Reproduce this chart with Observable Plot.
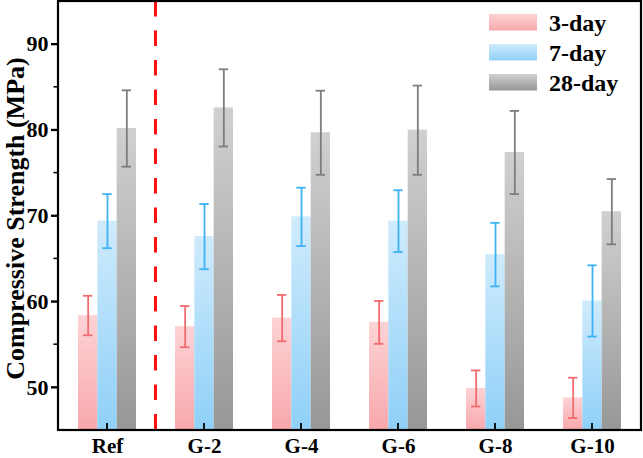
<!DOCTYPE html>
<html>
<head>
<meta charset="utf-8">
<script src="https://cdn.jsdelivr.net/npm/d3@7"></script>
<script src="https://cdn.jsdelivr.net/npm/@observablehq/plot@0.6"></script>
<style>
  html, body { margin: 0; padding: 0; background: #fff; }
  #chart svg { font-family: "Liberation Serif", "Times New Roman", Times, serif !important; font-size: 22px !important; font-weight: bold !important; color: #000 !important; }
  #chart svg text { font-family: "Liberation Serif", "Times New Roman", Times, serif !important; font-weight: bold !important; fill: #000; }
</style>
</head>
<body>
<div id="chart"></div>
<script>
const groups = ["Ref", "G-2", "G-4", "G-6", "G-8", "G-10"];
const series = ["3-day", "7-day", "28-day"];
const day3   = [58.4, 57.1, 58.1, 57.6, 49.9, 48.8];
const err3   = [2.3, 2.4, 2.7, 2.5, 2.1, 2.35];
const day7   = [69.4, 67.6, 69.9, 69.4, 65.5, 60.1];
const err7   = [3.15, 3.8, 3.4, 3.6, 3.7, 4.15];
const day28  = [80.2, 82.6, 79.7, 80.0, 77.4, 70.5];
const err28  = [4.45, 4.5, 4.9, 5.2, 4.85, 3.8];
const yTicks = [50, 60, 70, 80, 90];
const yMinorTicks = [55, 65, 75, 85];
const yLabel = "Compressive Strength (MPa)";

const values = [day3, day7, day28];
const errors = [err3, err7, err28];
const gradIds = ["gPink", "gBlue", "gGray"];
const gradStops = [["#fdd3d5", "#f7a8ac"], ["#cfebfc", "#8fd0f8"], ["#d0d0d0", "#979797"]];
const errColors = ["#f26b70", "#3db2f5", "#7d7d7d"];

const W = 643, H = 458, ML = 58, MR = 2, MT = 1, MB = 28;
const PAD = 0.403;
const step = (W - ML - MR) / groups.length;
const B = step * (1 - PAD);        // band width of a group
const bw = B / series.length;      // width of one bar
const capInset = 5;

const rows = [];
groups.forEach((g, i) => series.forEach((s, j) => {
  rows.push({group: g, series: s, value: values[j][i], lo: values[j][i] - errors[j][i], hi: values[j][i] + errors[j][i]});
}));

const marks = [];
series.forEach((s, j) => {
  const data = rows.filter(d => d.series === s);
  marks.push(Plot.barY(data, {x: "group", y1: 45, y2: "value", fill: `url(#${gradIds[j]})`,
    insetLeft: j * bw, insetRight: (series.length - 1 - j) * bw}));
});
series.forEach((s, j) => {
  const data = rows.filter(d => d.series === s);
  const off = (j - (series.length - 1) / 2) * bw;
  marks.push(Plot.ruleX(data, {x: "group", y1: "lo", y2: "hi", dx: off, stroke: errColors[j], strokeWidth: 1.8}));
  const capOpts = {x: "group", stroke: errColors[j], strokeWidth: 1.8,
    insetLeft: j * bw + capInset, insetRight: (series.length - 1 - j) * bw + capInset};
  marks.push(Plot.tickY(data, {...capOpts, y: "hi"}));
  marks.push(Plot.tickY(data, {...capOpts, y: "lo"}));
});

const plot = Plot.plot({
  width: W,
  height: H,
  marginLeft: ML,
  marginRight: MR,
  marginTop: MT,
  marginBottom: MB,
  style: {fontSize: "22px", background: "white", overflow: "visible"},
  x: {domain: groups, paddingInner: PAD, paddingOuter: PAD / 2, label: null, tickSize: 0, tickPadding: 7.5},
  y: {domain: [45, 95], ticks: yTicks, tickSize: 7, tickPadding: 3, label: null},
  marks
});

document.getElementById("chart").appendChild(plot);

const svg = d3.select(plot);
const xs = plot.scale("x");
const ys = plot.scale("y");
const cx = g => xs.apply(g) + xs.bandwidth / 2;
const y0 = ys.apply(45), yTop = ys.apply(95);
const xL = ML, xR = W - MR;

// group labels slightly smaller than y tick labels
svg.selectAll("[aria-label='x-axis tick label']").style("font-size", "21px");
svg.selectAll("[aria-label='y-axis tick'] path, [aria-label='y-axis tick'] line").attr("stroke-width", 1.8);

// gradients
const defs = svg.insert("defs", ":first-child");
gradIds.forEach((id, j) => {
  const lg = defs.append("linearGradient").attr("id", id).attr("x1", 0).attr("y1", 0).attr("x2", 0).attr("y2", 1);
  lg.append("stop").attr("offset", "0%").attr("stop-color", gradStops[j][0]);
  lg.append("stop").attr("offset", "100%").attr("stop-color", gradStops[j][1]);
});

const over = svg.append("g");
// dashed separator between Ref and G-2
const xSep = (cx(groups[0]) + cx(groups[1])) / 2;
over.append("line").attr("x1", xSep).attr("x2", xSep).attr("y1", yTop).attr("y2", y0)
  .attr("stroke", "#ff1010").attr("stroke-width", 3).attr("stroke-dasharray", "15.5,14");

// major + minor y ticks (outward)
yTicks.forEach(v => {
  over.append("line").attr("x1", xL - 7).attr("x2", xL).attr("y1", ys.apply(v)).attr("y2", ys.apply(v))
    .attr("stroke", "black").attr("stroke-width", 1.8);
});
yMinorTicks.forEach(v => {
  over.append("line").attr("x1", xL - 4.5).attr("x2", xL).attr("y1", ys.apply(v)).attr("y2", ys.apply(v))
    .attr("stroke", "black").attr("stroke-width", 1.6);
});
// inward x ticks
groups.forEach(g => {
  over.append("line").attr("x1", cx(g)).attr("x2", cx(g)).attr("y1", y0).attr("y2", y0 - 7)
    .attr("stroke", "black").attr("stroke-width", 1.8);
});
// frame
over.append("rect").attr("x", xL).attr("y", yTop).attr("width", xR - xL).attr("height", y0 - yTop)
  .attr("fill", "none").attr("stroke", "black").attr("stroke-width", 2.2);

// y label
over.append("text").attr("transform", `translate(23.5,${(yTop + y0) / 2 + 3}) rotate(-90)`)
  .attr("text-anchor", "middle").attr("font-size", 26).text(yLabel);

// legend
const leg = svg.append("g");
series.forEach((s, j) => {
  const yy = 14 + j * 30;
  leg.append("rect").attr("x", 489).attr("y", yy).attr("width", 48).attr("height", 16.5).attr("fill", `url(#${gradIds[j]})`);
  leg.append("text").attr("x", 549).attr("y", yy + 17).attr("text-anchor", "start")
    .attr("font-size", 24).text(s);
});
</script>
</body>
</html>
